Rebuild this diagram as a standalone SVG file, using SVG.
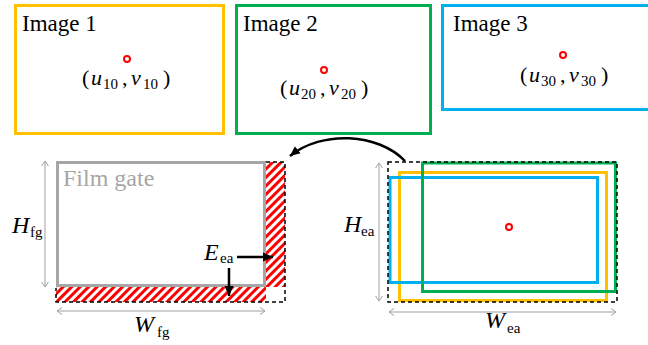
<svg xmlns="http://www.w3.org/2000/svg" width="648" height="345" viewBox="0 0 648 345" font-family="'Liberation Serif', 'DejaVu Serif', 'Times New Roman', serif">
<style>
text{font-family:'Liberation Serif','DejaVu Serif','Times New Roman',serif;fill:#000}
.lbl{font-size:23px}
.m{font-size:22px;font-style:italic}
.r{font-size:22px}
.s{font-size:15px}
.box{fill:none;stroke-width:3}
.dot{fill:#fff;stroke:#f00;stroke-width:2}
.dash{fill:none;stroke:#000;stroke-width:1.5;stroke-dasharray:4 3}
.dim{fill:none;stroke:#a0a0a0;stroke-width:1}
.blk{fill:none;stroke:#000;stroke-width:2.5}
</style>
<defs>
<pattern id="hatch" width="6" height="6" patternUnits="userSpaceOnUse" patternTransform="rotate(45)">
<rect width="6" height="6" fill="#fff"/>
<rect width="3" height="6" fill="#f00"/>
</pattern>
<marker id="open" viewBox="-6 -4 7 8" markerWidth="7" markerHeight="8" refX="0" refY="0" orient="auto-start-reverse" markerUnits="userSpaceOnUse">
<path d="M-5,-3.5 L0,0 L-5,3.5" fill="none" stroke="#a0a0a0" stroke-width="1"/>
</marker>
<marker id="solid" viewBox="-10 -5 10 10" markerWidth="10" markerHeight="10" refX="0" refY="0" orient="auto" markerUnits="userSpaceOnUse">
<path d="M-10,-4.5 L0,0 L-10,4.5 Z" fill="#000"/>
</marker>
</defs>

<g id="image1">
<rect class="box" x="15.5" y="5.5" width="208" height="128" stroke="#FFC000"/>
<text class="lbl" x="22" y="31">Image 1</text>
<circle class="dot" cx="127" cy="59" r="3"/>
<text class="r" x="82" y="85">(</text><text class="m" x="91" y="85">u</text><text class="s" x="103" y="89">10</text><text class="r" x="122" y="85">,</text><text class="m" x="131" y="85">v</text><text class="s" x="143" y="89">10</text><text class="r" x="163" y="85">)</text>
</g>

<g id="image2">
<rect class="box" x="236.5" y="5.5" width="194" height="128" stroke="#00B050"/>
<text class="lbl" x="243" y="31">Image 2</text>
<circle class="dot" cx="324" cy="70" r="3"/>
<text class="r" x="280" y="95">(</text><text class="m" x="289" y="95">u</text><text class="s" x="301" y="99">20</text><text class="r" x="320" y="95">,</text><text class="m" x="329" y="95">v</text><text class="s" x="341" y="99">20</text><text class="r" x="361" y="95">)</text>
</g>

<g id="image3">
<rect class="box" x="442.5" y="5.5" width="220" height="104" stroke="#00B0F0"/>
<text class="lbl" x="453" y="31">Image 3</text>
<circle class="dot" cx="563" cy="55" r="3"/>
<text class="r" x="520" y="82">(</text><text class="m" x="529" y="82">u</text><text class="s" x="541" y="86">30</text><text class="r" x="560" y="82">,</text><text class="m" x="569" y="82">v</text><text class="s" x="581" y="86">30</text><text class="r" x="601" y="82">)</text>
</g>

<g id="filmgate">
<rect x="264" y="162" width="21" height="125" fill="url(#hatch)"/>
<rect x="56" y="287" width="210" height="15" fill="url(#hatch)"/>
<rect class="box" x="57.5" y="162.5" width="207" height="123" stroke="#A6A6A6"/>
<path class="dash" d="M266,162 H285 V302 H56 V288"/>
<text x="63" y="186" style="font-size:24px;fill:#A6A6A6">Film gate</text>
</g>

<g id="hfg">
<line class="dim" x1="45" y1="161" x2="45" y2="287" marker-start="url(#open)" marker-end="url(#open)"/>
<text class="m" x="12" y="233" style="font-size:24px">H</text><text class="s" x="30" y="237">fg</text>
</g>
<g id="wfg">
<line class="dim" x1="57" y1="311" x2="265" y2="311" marker-start="url(#open)" marker-end="url(#open)"/>
<text class="m" x="134" y="332" style="font-size:24px">W</text><text class="s" x="157" y="337">fg</text>
</g>
<g id="eea">
<text class="m" x="204" y="260" style="font-size:24px">E</text><text class="s" x="220" y="263">ea</text>
</g>

<g id="extended">
<rect class="box" x="399.5" y="172.5" width="207" height="128" stroke="#FFC000"/>
<rect class="box" x="390" y="177.5" width="207.5" height="105" stroke="#00B0F0"/>
<rect class="box" x="422.5" y="163" width="193" height="128.5" stroke="#00B050"/>
<rect class="dash" x="388" y="162" width="229" height="140"/>
<circle class="dot" cx="509" cy="227" r="3"/>
</g>

<g id="hea">
<line class="dim" x1="379" y1="163" x2="379" y2="301" marker-start="url(#open)" marker-end="url(#open)"/>
<text class="m" x="344" y="232" style="font-size:24px">H</text><text class="s" x="361" y="236">ea</text>
</g>
<g id="wea">
<line class="dim" x1="389" y1="312" x2="616" y2="312" marker-start="url(#open)" marker-end="url(#open)"/>
<text class="m" x="485" y="328" style="font-size:24px">W</text><text class="s" x="507" y="333">ea</text>
</g>

<g id="connectors">
<path class="blk" d="M405,161 C378,133 322,130 290,156" marker-end="url(#solid)"/>
<line class="blk" x1="237" y1="257" x2="273" y2="257" marker-end="url(#solid)"/>
<line class="blk" x1="229" y1="268" x2="229" y2="296" marker-end="url(#solid)"/>
</g>
</svg>
